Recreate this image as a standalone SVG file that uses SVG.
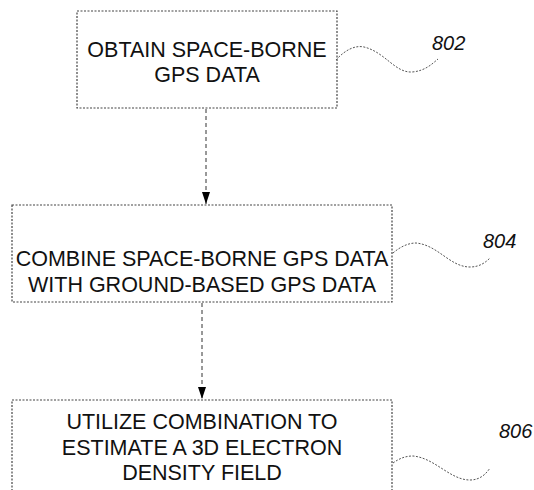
<svg xmlns="http://www.w3.org/2000/svg" width="534" height="490" viewBox="0 0 534 490">
<defs>
<marker id="ah" viewBox="0 0 12 8" refX="12" refY="4" markerWidth="12" markerHeight="8" markerUnits="userSpaceOnUse" orient="auto">
<path d="M0,0 L12,4 L0,8 Z" fill="#000"/>
</marker>
<style>
.box{fill:#fff;stroke:#444;stroke-width:1.2;stroke-dasharray:2 1.5}
.t{font-family:"Liberation Sans",Arial,sans-serif;font-size:21.5px;fill:#111;text-anchor:middle}
.lbl{font-family:"Liberation Sans",Arial,sans-serif;font-size:20px;font-style:italic;fill:#111}
.sq{fill:none;stroke:#555;stroke-width:1;stroke-dasharray:2 1.5}
.conn{fill:none;stroke:#333;stroke-width:1;stroke-dasharray:4 3}
</style>
</defs>
<rect width="534" height="490" fill="#fff"/>
<g id="connectors">
<line class="conn" x1="206" y1="109" x2="206" y2="204" marker-end="url(#ah)"/>
<line class="conn" x1="202" y1="303" x2="202" y2="399" marker-end="url(#ah)"/>
</g>
<g id="n802">
<rect class="box" x="77" y="11" width="260" height="97"/>
<text class="t" x="207" y="57">OBTAIN SPACE-BORNE</text>
<text class="t" x="207" y="82">GPS DATA</text>
<path class="sq" d="M336,60 C345,50 355,45 364,47 C385,52 395,73 412,72 C425,71 432,64 438,59"/>
<text class="lbl" x="432" y="50">802</text>
</g>
<g id="n804">
<rect class="box" x="12" y="205" width="380" height="97"/>
<text class="t" x="202" y="266">COMBINE SPACE-BORNE GPS DATA</text>
<text class="t" x="202" y="292">WITH GROUND-BASED GPS DATA</text>
<path class="sq" d="M393,253 C400,247 408,243 416,243 C438,245 450,267 470,267 C480,267 486,262 490,258"/>
<text class="lbl" x="483" y="248">804</text>
</g>
<g id="n806">
<rect class="box" x="12" y="400" width="380" height="110"/>
<text class="t" x="202" y="429">UTILIZE COMBINATION TO</text>
<text class="t" x="202" y="455">ESTIMATE A 3D ELECTRON</text>
<text class="t" x="202" y="480">DENSITY FIELD</text>
<path class="sq" d="M393,463 C400,458 406,456 413,456 C435,458 450,480 470,480 C480,480 486,474 490,468"/>
<text class="lbl" x="499" y="438">806</text>
</g>
</svg>
